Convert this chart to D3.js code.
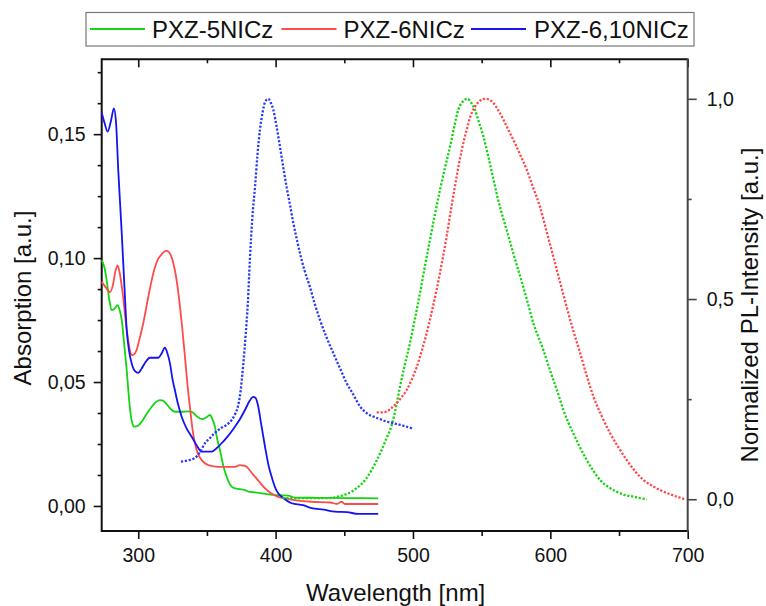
<!DOCTYPE html>
<html>
<head>
<meta charset="utf-8">
<script src="https://cdn.jsdelivr.net/npm/d3@7"></script>
<style>
  html, body { margin: 0; padding: 0; background: #fff; }
  svg { display: block; font-family: "Liberation Sans", Arial, sans-serif; }
</style>
</head>
<body>
<svg id="chart" width="766" height="606"></svg>
<script>
// ---- Series names and colours ----
const seriesNames = ["PXZ-5NICz", "PXZ-6NICz", "PXZ-6,10NICz"];
const seriesColors = ["#14d414", "#ff4a4a", "#1414f0"];

// ---- Absorption spectra (left axis) ----
const absWl5 = [273.4,275.5,277,279,280.6,282.5,285,286.5,288,290,291.6,293.5,295,297.1,300,302.5,306,309.8,313,315.8,318,320,323,326.7,332,336,339,342,346.2,349,352.2,354,355.8,357.5,359.5,362,364.4,367,370.4,374,377.7,380,385,389.8,395,399.5,405,409.2,414,430,450,474.7];
const abs5   = [0.0991,0.096,0.0911,0.083,0.079,0.0795,0.081,0.079,0.075,0.064,0.0548,0.042,0.035,0.032,0.0325,0.034,0.037,0.040,0.042,0.0427,0.0425,0.0415,0.0395,0.038,0.038,0.0382,0.038,0.0365,0.035,0.0355,0.0367,0.035,0.032,0.027,0.0226,0.016,0.0118,0.0085,0.0071,0.0068,0.0064,0.0058,0.0055,0.0051,0.0047,0.0044,0.0043,0.0042,0.0034,0.0033,0.0032,0.0031];

const absWl6 = [273.4,276,279.4,281.5,283.5,285,286.5,289,291,292.7,294,295.6,297.5,298.8,301,303.6,306.5,309.8,312,314.6,317,320,321.5,323.1,325,326.7,328.5,330.4,332,334,336,337.6,339.5,341.3,343.5,346.2,351,358.3,365,370.4,374,376.5,378.9,382,385,388.5,392.3,397,401.9,408,414,426.2,440,444.5,448,450.5,474.7];
const abs6   = [0.0904,0.0885,0.0863,0.089,0.095,0.0971,0.094,0.0843,0.074,0.0669,0.0625,0.0608,0.0615,0.0629,0.0675,0.0736,0.082,0.0911,0.096,0.0998,0.1015,0.1029,0.1028,0.1018,0.099,0.0951,0.089,0.0803,0.072,0.0602,0.048,0.040,0.031,0.0253,0.021,0.0185,0.0165,0.0158,0.0158,0.0158,0.0165,0.0163,0.0158,0.0138,0.0118,0.0095,0.0071,0.005,0.0037,0.003,0.0024,0.0017,0.0014,0.0008,0.0017,0.0008,0.0008];

const absWl610 = [273.4,275.5,277.7,280,282.3,283.8,285.5,287.9,290,291.6,293.5,295.2,297.5,300,302.5,305,308.5,314.6,317,319.4,321,323.1,325,326.7,329,331.6,335,338.9,342.5,346.2,353.4,357,360.7,365,370.4,374,377.7,381,383.7,385.5,387.4,389.5,392.3,395,397.1,400,401.9,405,411.7,420,426.2,435,443.2,452,460.2,474.7];
const abs610   = [0.1587,0.1545,0.151,0.155,0.1604,0.155,0.135,0.111,0.088,0.071,0.062,0.0576,0.0545,0.0537,0.0555,0.0578,0.0598,0.0598,0.0615,0.0639,0.062,0.0575,0.051,0.0467,0.041,0.036,0.0315,0.0279,0.0245,0.0219,0.0219,0.0233,0.0253,0.028,0.032,0.035,0.0387,0.0423,0.044,0.0435,0.040,0.033,0.0239,0.016,0.0118,0.007,0.0051,0.0035,0.0011,0.0003,-0.0009,-0.0015,-0.0023,-0.0025,-0.0032,-0.0032];

// ---- Normalized photoluminescence spectra (right axis) ----
const plWl5 = [405,415,425,432,438.3,442.5,446.8,451,455.4,459,462.6,466,469.9,473.5,477.2,480.8,484.5,487.5,490.5,494,497.8,501.5,505.1,508.7,512.4,516,519.7,523.3,527,530,533,536,539.5,542.5,545.1,548,551.2,554.9,558.5,562,565.8,569.5,573,576.7,580.3,584,587.6,591.3,594.9,598.5,602.2,606,609.5,613,616.7,621.5,626.5,631.5,636.2,642,648.3,654,660.4,665,670.2];
const pl5   = [0.003,0.003,0.003,0.003,0.003,0.004,0.0075,0.012,0.019,0.028,0.038,0.052,0.073,0.096,0.123,0.153,0.185,0.228,0.28,0.335,0.39,0.452,0.515,0.582,0.648,0.712,0.773,0.828,0.88,0.93,0.973,0.992,1.0,0.99,0.973,0.942,0.907,0.855,0.80,0.748,0.70,0.657,0.615,0.572,0.53,0.485,0.44,0.405,0.373,0.335,0.298,0.26,0.223,0.192,0.165,0.13,0.098,0.07,0.048,0.031,0.019,0.011,0.0065,0.003,0.0];

const plWl6 = [473.6,477,480.8,484.5,488.1,491.8,495.4,499,502.7,506.3,510,513.6,517.2,520.9,524.5,528,531.8,535.5,539.1,542,545.1,548.7,552.4,555.5,558.5,562,565.8,570.5,575.5,579,582.8,587.5,592.5,597.3,602.2,607,611.9,616.8,621.7,626.5,631.4,637.5,643.5,649.5,655.6,661.7,667.8,673.9,679.9,686,692,698];
const pl6   = [0.217,0.217,0.219,0.228,0.24,0.255,0.273,0.298,0.33,0.37,0.415,0.467,0.523,0.588,0.656,0.73,0.806,0.872,0.923,0.958,0.98,0.995,1.0,0.998,0.99,0.972,0.948,0.915,0.88,0.853,0.823,0.778,0.73,0.668,0.606,0.543,0.48,0.42,0.365,0.308,0.256,0.207,0.165,0.13,0.098,0.07,0.048,0.034,0.023,0.014,0.0065,0.0];

const plWl610 = [331.1,336,341.3,345,348.6,352,355.8,360,364.4,368,370.4,372.8,374.5,376.4,378.2,379.8,381.3,383,385,386.8,388.6,390.5,392.3,394.7,396.5,398.3,400.5,403.2,406,408,410.5,412.9,415.5,417.7,421,425,428.5,432.3,437,442,447,451.7,456.5,461.4,466.3,471.1,476,480.8,485.5,490.5,495.5,500.2];
const pl610   = [0.094,0.097,0.103,0.118,0.14,0.152,0.166,0.177,0.186,0.198,0.212,0.235,0.27,0.335,0.41,0.49,0.60,0.70,0.78,0.86,0.923,0.965,0.992,1.0,0.99,0.973,0.935,0.88,0.82,0.78,0.735,0.69,0.648,0.615,0.572,0.53,0.488,0.448,0.405,0.365,0.326,0.29,0.262,0.232,0.215,0.2065,0.2,0.194,0.19,0.186,0.181,0.176];

// ---- Axis ticks ----
const xTicks = [300, 400, 500, 600, 700];
const xMinorTicks = [350, 450, 550, 650];
const absTicks = [0, 0.05, 0.10, 0.15];
const absMinorTicks = [0.0125, 0.025, 0.0375, 0.0625, 0.075, 0.0875, 0.1125, 0.125, 0.1375, 0.1625, 0.175];
const plTicks = [0, 0.5, 1.0];
const plMinorTicks = [0.25, 0.75];

// ---- Layout ----
const svg = d3.select("#chart");
const plot = { left: 101.7, right: 687.7, top: 59.3, bottom: 531 };

const x = d3.scaleLinear().domain([273.4, 700]).range([plot.left, plot.right]);
const yAbs = d3.scaleLinear().domain([-0.0101, 0.1802]).range([plot.bottom, plot.top]);
const yPL = d3.scaleLinear().domain([-0.0793, 1.0987]).range([plot.bottom, plot.top]);

const comma = f => v => d3.format(f)(v).replace(".", ",");
const labelFont = "19.5px";

function styleAxis(g, strokeColor) {
  g.select(".domain").remove();
  g.selectAll(".tick line").attr("stroke", strokeColor).attr("stroke-width", 1.6);
  g.selectAll(".tick text")
    .attr("font-family", "'Liberation Sans', Arial, sans-serif")
    .attr("font-size", labelFont)
    .attr("fill", "#111");
}

// Bottom axis (ticks outward)
svg.append("g").attr("transform", `translate(0,${plot.bottom})`)
  .call(d3.axisBottom(x).tickValues(xTicks).tickFormat(d3.format("d")).tickSize(8).tickPadding(9))
  .call(g => styleAxis(g, "#111"));
svg.append("g").attr("transform", `translate(0,${plot.bottom})`)
  .call(d3.axisBottom(x).tickValues(xMinorTicks).tickFormat("").tickSize(5))
  .call(g => styleAxis(g, "#111"));

// Top axis (ticks inward, no labels)
svg.append("g").attr("transform", `translate(0,${plot.top})`)
  .call(d3.axisTop(x).tickValues(xTicks).tickFormat("").tickSize(-8))
  .call(g => styleAxis(g, "#111"));
svg.append("g").attr("transform", `translate(0,${plot.top})`)
  .call(d3.axisTop(x).tickValues(xMinorTicks).tickFormat("").tickSize(-4))
  .call(g => styleAxis(g, "#111"));

// Left axis: absorption
svg.append("g").attr("transform", `translate(${plot.left},0)`)
  .call(d3.axisLeft(yAbs).tickValues(absTicks).tickFormat(comma(".2f")).tickSize(8).tickPadding(8))
  .call(g => styleAxis(g, "#111"));
svg.append("g").attr("transform", `translate(${plot.left},0)`)
  .call(d3.axisLeft(yAbs).tickValues(absMinorTicks).tickFormat("").tickSize(4))
  .call(g => styleAxis(g, "#111"));

// Right axis: normalized PL intensity
svg.append("g").attr("transform", `translate(${plot.right},0)`)
  .call(d3.axisRight(yPL).tickValues(plTicks).tickFormat(comma(".1f")).tickSize(9).tickPadding(10))
  .call(g => styleAxis(g, "#444"));
svg.append("g").attr("transform", `translate(${plot.right},0)`)
  .call(d3.axisRight(yPL).tickValues(plMinorTicks).tickFormat("").tickSize(4))
  .call(g => styleAxis(g, "#444"));

// Frame lines
const frame = svg.append("g").attr("stroke-width", 2).attr("fill", "none");
frame.append("line").attr("x1", plot.left).attr("x2", plot.right).attr("y1", plot.top).attr("y2", plot.top).attr("stroke", "#111");
frame.append("line").attr("x1", plot.left).attr("x2", plot.right + 1).attr("y1", plot.bottom).attr("y2", plot.bottom).attr("stroke", "#111");
frame.append("line").attr("x1", plot.left).attr("x2", plot.left).attr("y1", plot.top - 1).attr("y2", plot.bottom + 1).attr("stroke", "#111");
frame.append("line").attr("x1", plot.right).attr("x2", plot.right).attr("y1", plot.top - 1).attr("y2", plot.bottom + 1).attr("stroke", "#444");

// ---- Curves ----
const curves = svg.append("g");
function drawSeries(wl, vals, yScale, color, dotted) {
  const pts = wl.map((w, i) => [w, vals[i]]);
  const line = d3.line().x(d => x(d[0])).y(d => yScale(d[1])).curve(d3.curveMonotoneX);
  const p = curves.append("path").datum(pts)
    .attr("d", line).attr("fill", "none").attr("stroke", color)
    .attr("stroke-width", dotted ? 2.3 : 1.8).attr("stroke-linejoin", "round");
  if (dotted) p.attr("stroke-dasharray", "2.2,1.7");
}

drawSeries(absWl5, abs5, yAbs, seriesColors[0], false);
drawSeries(absWl6, abs6, yAbs, seriesColors[1], false);
drawSeries(absWl610, abs610, yAbs, seriesColors[2], false);
drawSeries(plWl5, pl5, yPL, seriesColors[0], true);
drawSeries(plWl6, pl6, yPL, seriesColors[1], true);
drawSeries(plWl610, pl610, yPL, "#2a3cf5", true);

// ---- Axis titles ----
svg.append("text").attr("x", (plot.left + plot.right) / 2 + 1).attr("y", 601)
  .attr("text-anchor", "middle").attr("font-size", "24px").attr("fill", "#111")
  .text("Wavelength [nm]");
svg.append("text").attr("transform", "translate(31,298) rotate(-90)")
  .attr("text-anchor", "middle").attr("font-size", "24px").attr("fill", "#111")
  .text("Absorption [a.u.]");
svg.append("text").attr("transform", "translate(758,305) rotate(-90)")
  .attr("text-anchor", "middle").attr("font-size", "24px").attr("fill", "#111")
  .text("Normalized PL-Intensity [a.u.]");

// ---- Legend ----
const legend = svg.append("g");
legend.append("rect").attr("x", 86).attr("y", 12.5).attr("width", 608).attr("height", 33.5)
  .attr("fill", "#fff").attr("stroke", "#777").attr("stroke-width", 1.2);
const legendLineX = [90, 281.5, 471];
const legendTextX = [152, 343.5, 534];
seriesNames.forEach((name, i) => {
  legend.append("line").attr("x1", legendLineX[i]).attr("x2", legendLineX[i] + 55)
    .attr("y1", 29).attr("y2", 29).attr("stroke", seriesColors[i]).attr("stroke-width", 2);
  legend.append("text").attr("x", legendTextX[i]).attr("y", 37.5)
    .attr("font-size", "24px").attr("fill", "#111").text(name);
});
</script>
</body>
</html>
